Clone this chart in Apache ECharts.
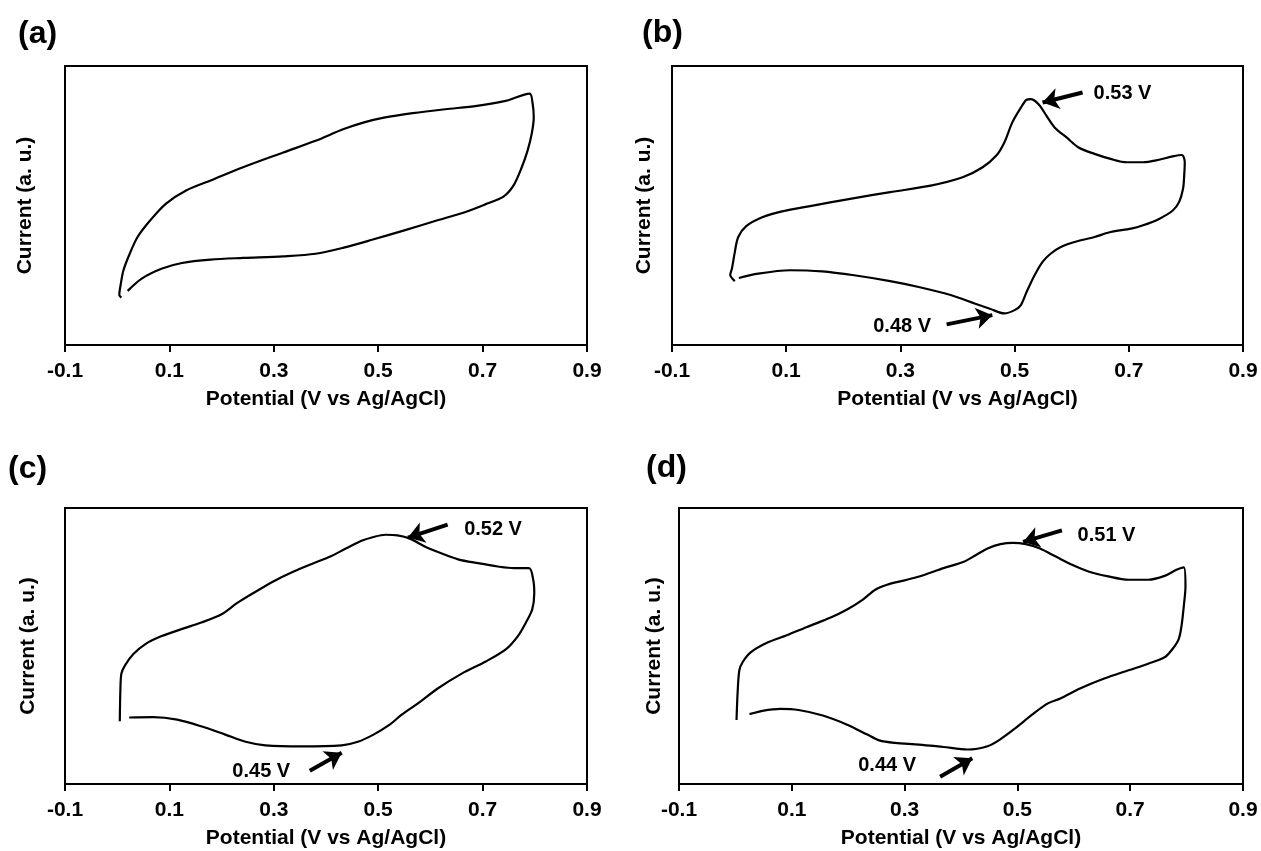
<!DOCTYPE html>
<html>
<head>
<meta charset="utf-8">
<script src="https://cdn.jsdelivr.net/npm/echarts@6/dist/echarts.min.js"></script>
<style>
  html, body { margin: 0; padding: 0; background: #fff; }
  #chart { width: 1261px; height: 851px; }
</style>
</head>
<body>
<div id="chart"></div>
<script>
// potential (V) / current (a.u., 0..100 of the frame height)
const curveA = [
  [0.020, 19.4], [0.047, 23.8], [0.086, 27.4], [0.124, 29.4], [0.179, 30.6], [0.241, 31.2],
  [0.318, 31.8], [0.380, 32.7], [0.434, 34.9], [0.488, 37.7], [0.550, 41.1], [0.612, 44.6],
  [0.666, 47.6], [0.705, 50.4], [0.740, 53.2], [0.759, 57.1], [0.775, 63.7], [0.786, 69.6],
  [0.794, 75.6], [0.798, 81.5], [0.796, 86.3], [0.790, 90.1],
  [0.744, 87.5], [0.689, 85.7], [0.628, 84.5], [0.566, 83.1], [0.511, 81.5], [0.473, 79.8],
  [0.434, 77.4], [0.380, 73.2], [0.318, 69.0], [0.241, 63.7], [0.186, 59.5], [0.132, 55.4],
  [0.093, 50.6], [0.063, 44.6], [0.039, 38.7], [0.024, 32.7], [0.012, 26.8], [0.007, 22.0],
  [0.004, 17.9], [0.008, 17.0]
];
const curveB = [
  [0.017, 24.0], [0.051, 25.6], [0.107, 26.8], [0.163, 26.4], [0.219, 25.0], [0.282, 22.9],
  [0.332, 20.8], [0.388, 17.9], [0.430, 14.9], [0.458, 12.9], [0.482, 11.3], [0.500, 12.5],
  [0.511, 14.3], [0.521, 19.0], [0.535, 25.0], [0.549, 29.8], [0.563, 32.7], [0.581, 35.1],
  [0.605, 36.9], [0.640, 38.7], [0.668, 40.5], [0.704, 41.7], [0.725, 42.9], [0.753, 45.2],
  [0.777, 48.2], [0.788, 51.2], [0.795, 56.0], [0.797, 60.7], [0.798, 65.5], [0.793, 68.1],
  [0.777, 67.6], [0.753, 66.4], [0.725, 65.5], [0.696, 65.5], [0.668, 66.7], [0.640, 68.5],
  [0.612, 70.8], [0.591, 74.4], [0.570, 78.0], [0.556, 82.1], [0.542, 86.3], [0.528, 88.1],
  [0.521, 87.9], [0.511, 85.1], [0.496, 79.8], [0.482, 72.6], [0.468, 67.9], [0.444, 63.7],
  [0.409, 60.1], [0.353, 57.1], [0.282, 54.8], [0.212, 52.4], [0.142, 49.8], [0.093, 47.9],
  [0.058, 45.8], [0.030, 42.6], [0.016, 38.7], [0.010, 33.3], [0.005, 27.4], [0.002, 25.2],
  [0.010, 22.9]
];
const curveC = [
  [0.023, 24.1], [0.069, 24.2], [0.115, 23.3], [0.161, 20.9], [0.207, 17.9], [0.246, 15.3],
  [0.284, 14.0], [0.353, 13.6], [0.430, 14.0], [0.461, 15.3], [0.491, 17.9], [0.522, 21.5],
  [0.545, 25.1], [0.576, 29.2], [0.614, 34.6], [0.660, 40.0], [0.706, 44.4], [0.745, 48.9],
  [0.768, 53.7], [0.783, 58.5], [0.795, 63.2], [0.799, 69.2], [0.797, 74.0], [0.789, 78.2],
  [0.760, 78.2], [0.729, 78.8], [0.691, 80.0], [0.653, 81.4], [0.622, 83.5], [0.591, 85.9],
  [0.561, 88.9], [0.537, 90.1], [0.514, 90.3], [0.491, 89.5], [0.468, 88.1], [0.438, 85.3],
  [0.407, 82.3], [0.376, 80.0], [0.338, 77.0], [0.299, 73.4], [0.261, 69.2], [0.230, 65.6],
  [0.200, 61.5], [0.161, 58.5], [0.123, 56.1], [0.084, 53.5], [0.054, 50.7], [0.031, 47.1],
  [0.015, 43.0], [0.008, 40.0], [0.006, 33.4], [0.005, 22.7]
];
const curveD = [
  [0.025, 25.3], [0.048, 26.5], [0.080, 27.2], [0.112, 26.8], [0.155, 24.8], [0.198, 21.5],
  [0.234, 17.9], [0.255, 15.8], [0.283, 14.9], [0.326, 14.3], [0.369, 13.4], [0.412, 12.5],
  [0.447, 13.7], [0.469, 16.1], [0.497, 20.3], [0.526, 25.1], [0.554, 29.2], [0.576, 31.0],
  [0.611, 34.6], [0.654, 38.2], [0.697, 41.2], [0.732, 43.6], [0.761, 45.9], [0.775, 48.9],
  [0.786, 52.5], [0.791, 57.3], [0.795, 64.4], [0.798, 71.6], [0.795, 78.5],
  [0.782, 77.6], [0.761, 75.4], [0.732, 74.0], [0.697, 74.0], [0.661, 75.2], [0.626, 77.0],
  [0.597, 79.4], [0.569, 82.3], [0.540, 85.3], [0.515, 86.9], [0.492, 87.4], [0.470, 86.9],
  [0.447, 85.3], [0.426, 82.9], [0.405, 80.5], [0.369, 78.2], [0.326, 75.2], [0.298, 73.7],
  [0.269, 72.2], [0.248, 70.4], [0.226, 66.8], [0.198, 63.2], [0.169, 60.3], [0.127, 56.9],
  [0.091, 53.9], [0.055, 51.1], [0.027, 47.7], [0.013, 44.2], [0.007, 41.2], [0.004, 33.4],
  [0.002, 23.2]
];

// peak labels [x, y, text] and arrows [[x1, y1], [x2, y2]]
const labelsB = [[0.689, 90.2, '0.53 V'], [0.303, 6.5, '0.48 V']];
const arrowsB = [[[0.619, 90.5], [0.549, 86.9]], [[0.381, 7.4], [0.461, 10.7]]];
const labelsC = [[0.720, 92.2, '0.52 V'], [0.276, 4.5, '0.45 V']];
const arrowsC = [[[0.633, 94.0], [0.557, 89.3]], [[0.369, 4.8], [0.430, 11.3]]];
const labelsD = [[0.658, 90.1, '0.51 V'], [0.269, 6.6, '0.44 V']];
const arrowsD = [[[0.579, 91.9], [0.510, 87.7]], [[0.363, 2.6], [0.420, 9.3]]];

const panelNames = ['(a)', '(b)', '(c)', '(d)'];
const xName = 'Potential (V vs Ag/AgCl)';
const yName = 'Current (a. u.)';

const FONT = '"Liberation Sans", Arial, sans-serif';

const grids = [
  { left: 65, right: 674, top: 66, bottom: 506 },
  { left: 672, right: 18, top: 66, bottom: 506 },
  { left: 65, right: 674, top: 508, bottom: 67 },
  { left: 679, right: 18, top: 508, bottom: 67 }
];
const titlePos = [
  { left: 18, top: 18 },
  { left: 642, top: 17 },
  { left: 8, top: 453 },
  { left: 646, top: 452 }
];
const yNameGap = [29, 17, 26, 14];

const chart = echarts.init(document.getElementById('chart'), null, { renderer: 'canvas' });

const curves = [curveA, curveB, curveC, curveD];
const labels = [[], labelsB, labelsC, labelsD];
const arrows = [[], arrowsB, arrowsC, arrowsD];

const series = [];
curves.forEach((c, i) => {
  series.push({
    type: 'line',
    xAxisIndex: i,
    yAxisIndex: i,
    data: c,
    smooth: 0.3,
    showSymbol: false,
    lineStyle: { color: '#000', width: 2.2 },
    markLine: arrows[i].length ? {
      silent: true,
      symbol: ['none', 'arrow'],
      symbolSize: 16,
      itemStyle: { color: '#000' },
      lineStyle: { color: '#000', width: 4, type: 'solid' },
      label: { show: false },
      data: arrows[i].map(a => [{ coord: a[0] }, { coord: a[1] }])
    } : undefined
  });
  if (labels[i].length) {
    series.push({
      type: 'scatter',
      xAxisIndex: i,
      yAxisIndex: i,
      symbolSize: 1,
      itemStyle: { color: 'rgba(0,0,0,0)', opacity: 1 },
      data: labels[i],
      label: {
        show: true,
        position: 'inside',
        formatter: p => p.data[2],
        color: '#000',
        opacity: 1,
        fontFamily: FONT,
        fontWeight: 'bold',
        fontSize: 20
      }
    });
  }
});

const option = {
  animation: false,
  backgroundColor: '#fff',
  title: panelNames.map((t, i) => ({
    text: t,
    left: titlePos[i].left,
    top: titlePos[i].top,
    padding: 0,
    textStyle: { fontFamily: FONT, fontWeight: 'bold', fontSize: 32, color: '#000' }
  })),
  grid: grids.map(g => Object.assign({ show: true, borderColor: '#000', borderWidth: 2, backgroundColor: 'transparent' }, g)),
  xAxis: grids.map((g, i) => ({
    type: 'value',
    gridIndex: i,
    min: -0.1,
    max: 0.9,
    interval: 0.2,
    name: xName,
    nameLocation: 'middle',
    nameGap: 44,
    nameTextStyle: { fontFamily: FONT, fontWeight: 'bold', fontSize: 21, color: '#000' },
    axisLine: { show: true, onZero: false, lineStyle: { color: '#000', width: 2 } },
    axisTick: { show: true, length: 7, lineStyle: { color: '#000', width: 2 } },
    axisLabel: {
      margin: 16,
      fontFamily: FONT,
      fontWeight: 'bold',
      fontSize: 21,
      color: '#000',
      formatter: v => v.toFixed(1)
    },
    splitLine: { show: false }
  })),
  yAxis: grids.map((g, i) => ({
    type: 'value',
    gridIndex: i,
    min: 0,
    max: 100,
    name: yName,
    nameLocation: 'middle',
    nameGap: yNameGap[i],
    nameRotate: 90,
    nameTextStyle: { fontFamily: FONT, fontWeight: 'bold', fontSize: 21, color: '#000' },
    axisLine: { show: true, onZero: false, lineStyle: { color: '#000', width: 2 } },
    axisTick: { show: false },
    axisLabel: { show: false },
    splitLine: { show: false }
  })),
  series: series
};

chart.setOption(option);
window.onresize = () => chart.resize();
</script>
</body>
</html>
